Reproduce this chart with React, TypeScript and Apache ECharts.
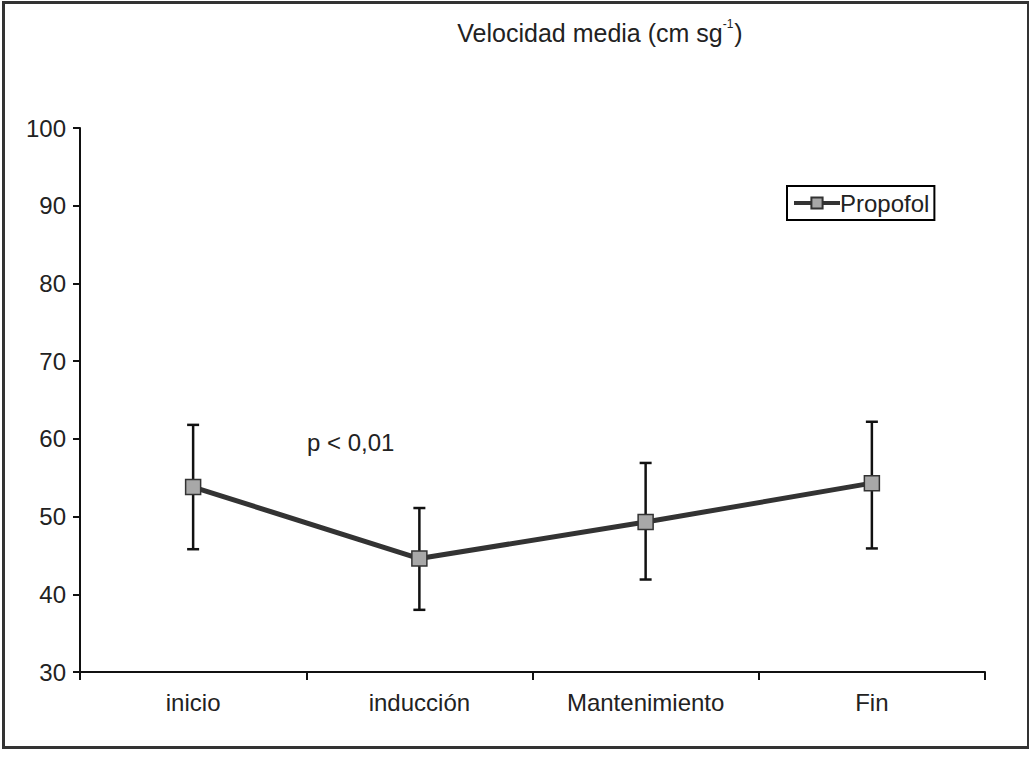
import React, { useEffect, useRef } from "react";
import * as echarts from "echarts";

const categories = ["inicio", "inducción", "Mantenimiento", "Fin"];
const means = [53.8, 44.6, 49.3, 54.3];
const lows = [45.8, 38.0, 41.9, 45.9];
const highs = [61.8, 51.1, 56.9, 62.2];
const yTicks = { min: 30, max: 100, interval: 10 };
const seriesName = "Propofol";
const annotation = "p < 0,01";

export default function App() {
  const ref = useRef<HTMLDivElement>(null);
  useEffect(() => {
    document.body.style.margin = "0";
    const chart = echarts.init(ref.current!, null, { renderer: "svg" });
    const font = "'Liberation Sans', Arial, sans-serif";
    const fs = 24;
    const errData = categories.map((_, i) => [i, lows[i], highs[i]]);
    chart.setOption({
      animation: false,
      backgroundColor: "#fff",
      textStyle: { fontFamily: font, color: "#222" },
      title: {
        text: "{a|Velocidad media (cm sg}{s|-1}{a|)}",
        left: 595,
        textAlign: "center",
        top: 13,
        textStyle: {
          fontWeight: "normal",
          rich: {
            a: { fontSize: 25, fontFamily: font, fontWeight: "normal", color: "#222", lineHeight: 30 },
            s: { fontSize: 12, fontFamily: font, fontWeight: "normal", color: "#222", verticalAlign: "top", lineHeight: 30, padding: [0, 1, 12, 0] },
          },
        },
      },
      legend: {
        left: 787,
        top: 186,
        orient: "vertical",
        backgroundColor: "#fff",
        borderColor: "#000",
        borderWidth: 2,
        borderRadius: 0,
        padding: [5, 5, 5, 5],
        itemWidth: 46,
        itemHeight: 14,
        itemGap: 4,
        data: [seriesName],
        lineStyle: { width: 4, color: "#333" },
        textStyle: { fontSize: fs, fontFamily: font, color: "#222", padding: [0, 0, 0, -5] },
      },
      grid: { left: 80, right: 44, top: 128, bottom: 100, containLabel: false },
      xAxis: {
        type: "category",
        data: categories,
        boundaryGap: true,
        axisLine: { lineStyle: { color: "#111", width: 2 } },
        axisTick: { show: true, length: 8, lineStyle: { color: "#111", width: 2 } },
        axisLabel: { fontSize: fs, fontFamily: font, color: "#222", margin: 18 },
        splitLine: { show: false },
      },
      yAxis: {
        type: "value",
        min: yTicks.min,
        max: yTicks.max,
        interval: yTicks.interval,
        axisLine: { show: true, lineStyle: { color: "#111", width: 2 } },
        axisTick: { show: true, length: 7, lineStyle: { color: "#111", width: 2 } },
        axisLabel: { fontSize: fs, fontFamily: font, color: "#222", margin: 14 },
        splitLine: { show: false },
      },
      graphic: [
        {
          type: "rect",
          left: 1,
          top: 0,
          shape: { x: 0, y: 0, width: 1025, height: 745 },
          style: { fill: "none", stroke: "#333", lineWidth: 3 },
          silent: true,
          z: -1,
        },
        {
          type: "text",
          left: 307,
          top: 430,
          style: { text: annotation, fontSize: fs, fontFamily: font, fill: "#222" },
        },
      ],
      series: [
        {
          type: "custom",
          name: "err",
          z: 1,
          data: errData,
          renderItem: (params: any, api: any) => {
            const x = api.value(0);
            const lo = api.coord([x, api.value(1)]);
            const hi = api.coord([x, api.value(2)]);
            const cap = 6;
            const style = { stroke: "#111", lineWidth: 2.5 };
            return {
              type: "group",
              children: [
                { type: "line", shape: { x1: lo[0], y1: lo[1], x2: hi[0], y2: hi[1] }, style },
                { type: "line", shape: { x1: lo[0] - cap, y1: lo[1], x2: lo[0] + cap, y2: lo[1] }, style },
                { type: "line", shape: { x1: hi[0] - cap, y1: hi[1], x2: hi[0] + cap, y2: hi[1] }, style },
              ],
            };
          },
        },
        {
          type: "line",
          name: seriesName,
          z: 5,
          data: means,
          symbol: "rect",
          symbolSize: 15,
          lineStyle: { color: "#333", width: 5 },
          itemStyle: { color: "#a8a8a8", borderColor: "#333", borderWidth: 1.5 },
        },
      ],
    });
    return () => chart.dispose();
  }, []);
  return <div ref={ref} style={{ width: 1029, height: 772 }} />;
}
